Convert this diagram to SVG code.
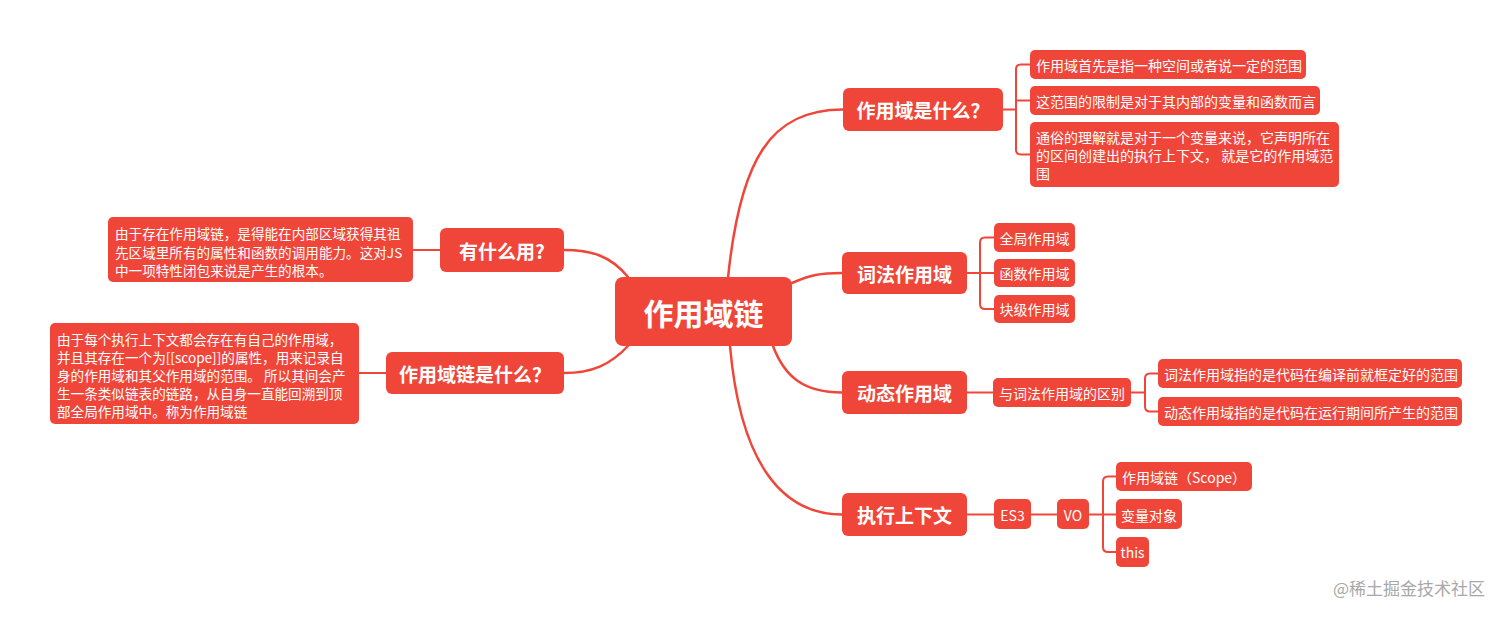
<svg xmlns="http://www.w3.org/2000/svg" width="1512" height="617" viewBox="0 0 1512 617">
<style>
  .box { fill: #F0463A; }
  .t { fill: #ffffff; font-family: "Noto Sans CJK SC", "Noto Sans", sans-serif; dominant-baseline: central; }
  .leaf { font-size: 14px; }
  .desc { font-size: 13.6px; }
  .br { font-size: 19px; font-weight: bold; text-anchor: middle; }
  .ctr { font-size: 30px; font-weight: bold; text-anchor: middle; }
  .mid { text-anchor: middle; }
  .c { fill: none; stroke: #F0463A; stroke-width: 2.5; stroke-linecap: round; }
  .s { fill: none; stroke: #F0463A; stroke-width: 2; }
  .wm { fill: #a8a8a8; font-family: "Noto Sans CJK SC", "Noto Sans", sans-serif; font-size: 17px; dominant-baseline: central; }
</style>
<rect width="1512" height="617" fill="#ffffff"/>
<g id="connectors">
  <path class="c" d="M728,278 C740,160 770,109.5 843,109.5"/>
  <path class="c" d="M792,283 C810,275 820,273 842,273"/>
  <path class="c" d="M773,346 C785,378 805,392.5 842,392.5"/>
  <path class="c" d="M730,346 C740,460 780,514.5 842,514.5"/>
  <path class="c" d="M628,277 C610,255 590,250 564,250"/>
  <path class="c" d="M628,346 C610,365 592,373 564,373"/>
  <path class="s" d="M440,250 H413"/>
  <path class="s" d="M386,373 H359"/>
  <path class="s" d="M1003,109.5 H1016 M1030,64.5 H1021 Q1016,64.5 1016,69.5 V149.5 Q1016,154.5 1021,154.5 H1030 M1016,100.5 H1030"/>
  <path class="s" d="M967,273 H980 M994,237.5 H985 Q980,237.5 980,242.5 V304 Q980,309 985,309 H994 M980,273 H994"/>
  <path class="s" d="M967,392.5 H993"/>
  <path class="s" d="M1131,392.5 H1145 M1158,373.5 H1150 Q1145,373.5 1145,378.5 V406.5 Q1145,411.5 1150,411.5 H1158"/>
  <path class="s" d="M967,514.5 H994 M1031,514.5 H1057"/>
  <path class="s" d="M1089,514.5 H1116 M1116,476.5 H1108 Q1103,476.5 1103,481.5 V547 Q1103,552 1108,552 H1116"/>
</g>
<g id="center">
  <rect class="box" x="615" y="277" width="177" height="69" rx="8"/>
  <text class="t ctr" x="703.5" y="311.5">作用域链</text>
</g>
<g id="what-scope">
  <rect class="box" x="843" y="88" width="160" height="43" rx="6"/>
  <text class="t br" x="923" y="109.5">作用域是什么？</text>
</g>
<g id="what-scope-1">
  <rect class="box" x="1030" y="50" width="276" height="29" rx="5"/>
  <text class="t leaf" x="1036" y="64.5">作用域首先是指一种空间或者说一定的范围</text>
</g>
<g id="what-scope-2">
  <rect class="box" x="1030" y="86" width="290" height="29" rx="5"/>
  <text class="t leaf" x="1036" y="100.5">这范围的限制是对于其内部的变量和函数而言</text>
</g>
<g id="what-scope-3">
  <rect class="box" x="1030" y="122" width="309" height="65" rx="5"/>
  <text class="t leaf" x="1036" y="137">通俗的理解就是对于一个变量来说，它声明所在</text>
  <text class="t leaf" x="1036" y="155">的区间创建出的执行上下文， 就是它的作用域范</text>
  <text class="t leaf" x="1036" y="173">围</text>
</g>
<g id="lexical">
  <rect class="box" x="842" y="252" width="125" height="42" rx="6"/>
  <text class="t br" x="904.5" y="273">词法作用域</text>
</g>
<g id="lexical-global">
  <rect class="box" x="994" y="223" width="81" height="29" rx="5"/>
  <text class="t leaf mid" x="1034.5" y="237.5">全局作用域</text>
</g>
<g id="lexical-function">
  <rect class="box" x="994" y="259" width="81" height="28" rx="5"/>
  <text class="t leaf mid" x="1034.5" y="273">函数作用域</text>
</g>
<g id="lexical-block">
  <rect class="box" x="994" y="295" width="81" height="28" rx="5"/>
  <text class="t leaf mid" x="1034.5" y="309">块级作用域</text>
</g>
<g id="dynamic">
  <rect class="box" x="842" y="371" width="125" height="43" rx="6"/>
  <text class="t br" x="904.5" y="392.5">动态作用域</text>
</g>
<g id="dynamic-diff">
  <rect class="box" x="993" y="378" width="138" height="29" rx="5"/>
  <text class="t leaf mid" x="1062" y="392.5">与词法作用域的区别</text>
</g>
<g id="diff-lexical">
  <rect class="box" x="1158" y="359" width="304" height="29" rx="5"/>
  <text class="t leaf" x="1164" y="373.5">词法作用域指的是代码在编译前就框定好的范围</text>
</g>
<g id="diff-dynamic">
  <rect class="box" x="1158" y="397" width="304" height="29" rx="5"/>
  <text class="t leaf" x="1164" y="411.5">动态作用域指的是代码在运行期间所产生的范围</text>
</g>
<g id="context">
  <rect class="box" x="842" y="493" width="125" height="43" rx="6"/>
  <text class="t br" x="904.5" y="514.5">执行上下文</text>
</g>
<g id="es3">
  <rect class="box" x="994" y="499" width="37" height="30" rx="5"/>
  <text class="t leaf mid" x="1012.5" y="514.5">ES3</text>
</g>
<g id="vo">
  <rect class="box" x="1057" y="499" width="32" height="30" rx="5"/>
  <text class="t leaf mid" x="1073" y="514.5">VO</text>
</g>
<g id="vo-scope">
  <rect class="box" x="1116" y="462" width="136" height="29" rx="5"/>
  <text class="t leaf" x="1122" y="476.5">作用域链（Scope）</text>
</g>
<g id="vo-variable">
  <rect class="box" x="1116" y="499" width="66" height="30" rx="5"/>
  <text class="t leaf mid" x="1149" y="514.5">变量对象</text>
</g>
<g id="vo-this">
  <rect class="box" x="1116" y="537" width="33" height="30" rx="5"/>
  <text class="t leaf mid" x="1132.5" y="552">this</text>
</g>
<g id="usage">
  <rect class="box" x="440" y="228" width="124" height="44" rx="6"/>
  <text class="t br" x="502" y="250">有什么用?</text>
</g>
<g id="usage-desc">
  <rect class="box" x="108" y="217" width="305" height="65" rx="5"/>
  <text class="t desc" x="115" y="233">由于存在作用域链，是得能在内部区域获得其祖</text>
  <text class="t desc" x="115" y="251.5">先区域里所有的属性和函数的调用能力。这对JS</text>
  <text class="t desc" x="115" y="270">中一项特性闭包来说是产生的根本。</text>
</g>
<g id="chain-what">
  <rect class="box" x="386" y="352" width="178" height="42" rx="6"/>
  <text class="t br" x="475" y="373">作用域链是什么？</text>
</g>
<g id="chain-desc">
  <rect class="box" x="50" y="323" width="309" height="101" rx="5"/>
  <text class="t desc" x="57" y="339">由于每个执行上下文都会存在有自己的作用域，</text>
  <text class="t desc" x="57" y="357">并且其存在一个为[[scope]]的属性，用来记录自</text>
  <text class="t desc" x="57" y="375">身的作用域和其父作用域的范围。 所以其间会产</text>
  <text class="t desc" x="57" y="393">生一条类似链表的链路，从自身一直能回溯到顶</text>
  <text class="t desc" x="57" y="410.5">部全局作用域中。称为作用域链</text>
</g>
<text class="wm" x="1333" y="587">@稀土掘金技术社区</text>
</svg>
